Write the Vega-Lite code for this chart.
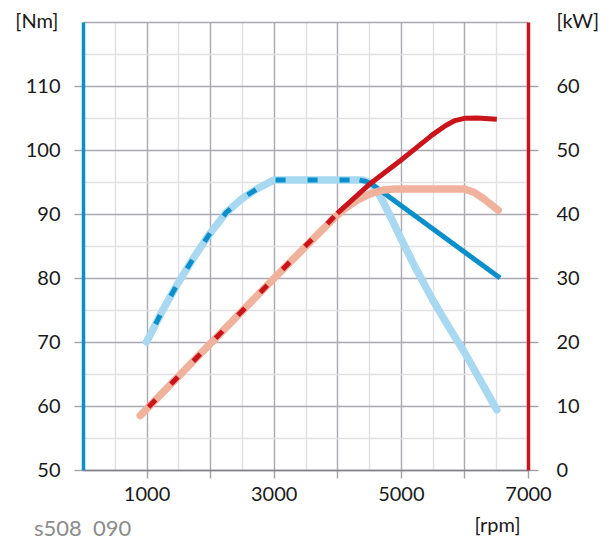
{
  "$schema": "https://vega.github.io/schema/vega-lite/v6.json",
  "width": 445,
  "height": 448,
  "autosize": {"type": "none"},
  "padding": {"left": 83, "top": 22, "right": 85, "bottom": 70},
  "background": "white",
  "config": {
    "view": {"stroke": null},
    "font": "Lato",
    "axis": {"labelFont": "Lato", "titleFont": "Lato", "labelFontSize": 20, "labelColor": "#1a1a1a", "titleFontSize": 20, "titleFontWeight": "normal", "titleColor": "#1a1a1a"}
  },
  "title": {"text": "s508\u00a0\u00a0090", "orient": "bottom", "anchor": "start", "frame": "group", "fontSize": 22, "fontWeight": "normal", "color": "#8c8c8c", "font": "Lato", "dx": -49, "dy": -16, "offset": 0},
  "datasets": {
    "torque": [
      {"rpm": 1000, "value": 70.0, "s": "light"},
      {"rpm": 1250, "value": 74.9, "s": "light"},
      {"rpm": 1500, "value": 79.3, "s": "light"},
      {"rpm": 1750, "value": 83.3, "s": "light"},
      {"rpm": 2000, "value": 87.0, "s": "light"},
      {"rpm": 2250, "value": 90.2, "s": "light"},
      {"rpm": 2500, "value": 92.4, "s": "light"},
      {"rpm": 2750, "value": 94.0, "s": "light"},
      {"rpm": 3000, "value": 95.3, "s": "light"},
      {"rpm": 4400, "value": 95.3, "s": "light"},
      {"rpm": 4500, "value": 95.0, "s": "light"},
      {"rpm": 4600, "value": 94.0, "s": "light"},
      {"rpm": 4700, "value": 92.3, "s": "light"},
      {"rpm": 4850, "value": 89.3, "s": "light"},
      {"rpm": 5000, "value": 86.2, "s": "light"},
      {"rpm": 5250, "value": 81.2, "s": "light"},
      {"rpm": 5500, "value": 76.6, "s": "light"},
      {"rpm": 5750, "value": 72.4, "s": "light"},
      {"rpm": 6000, "value": 68.4, "s": "light"},
      {"rpm": 6250, "value": 64.0, "s": "light"},
      {"rpm": 6510, "value": 59.4, "s": "light"},
      {"rpm": 1000, "value": 70.0, "s": "dashed"},
      {"rpm": 1250, "value": 74.9, "s": "dashed"},
      {"rpm": 1500, "value": 79.3, "s": "dashed"},
      {"rpm": 1750, "value": 83.3, "s": "dashed"},
      {"rpm": 2000, "value": 87.0, "s": "dashed"},
      {"rpm": 2250, "value": 90.2, "s": "dashed"},
      {"rpm": 2500, "value": 92.4, "s": "dashed"},
      {"rpm": 2750, "value": 94.0, "s": "dashed"},
      {"rpm": 3000, "value": 95.3, "s": "dashed"},
      {"rpm": 4350, "value": 95.3, "s": "dashed"},
      {"rpm": 4350, "value": 95.3, "s": "solid"},
      {"rpm": 4450, "value": 95.1, "s": "solid"},
      {"rpm": 4550, "value": 94.6, "s": "solid"},
      {"rpm": 6560, "value": 80.0, "s": "solid"}
    ],
    "power": [
      {"rpm": 900, "value": 8.5, "s": "light"},
      {"rpm": 2000, "value": 19.7, "s": "light"},
      {"rpm": 3000, "value": 29.9, "s": "light"},
      {"rpm": 3900, "value": 38.9, "s": "light"},
      {"rpm": 4100, "value": 40.7, "s": "light"},
      {"rpm": 4300, "value": 42.1, "s": "light"},
      {"rpm": 4500, "value": 43.1, "s": "light"},
      {"rpm": 4700, "value": 43.7, "s": "light"},
      {"rpm": 4900, "value": 43.9, "s": "light"},
      {"rpm": 6000, "value": 43.9, "s": "light"},
      {"rpm": 6150, "value": 43.4, "s": "light"},
      {"rpm": 6300, "value": 42.4, "s": "light"},
      {"rpm": 6530, "value": 40.6, "s": "light"},
      {"rpm": 900, "value": 8.5, "s": "dashed"},
      {"rpm": 2000, "value": 19.7, "s": "dashed"},
      {"rpm": 3000, "value": 29.9, "s": "dashed"},
      {"rpm": 4000, "value": 40.1, "s": "dashed"},
      {"rpm": 4000, "value": 40.1, "s": "solid"},
      {"rpm": 4500, "value": 44.6, "s": "solid"},
      {"rpm": 5000, "value": 48.4, "s": "solid"},
      {"rpm": 5300, "value": 50.8, "s": "solid"},
      {"rpm": 5500, "value": 52.4, "s": "solid"},
      {"rpm": 5700, "value": 53.8, "s": "solid"},
      {"rpm": 5850, "value": 54.6, "s": "solid"},
      {"rpm": 6000, "value": 54.95, "s": "solid"},
      {"rpm": 6200, "value": 55.0, "s": "solid"},
      {"rpm": 6510, "value": 54.8, "s": "solid"}
    ]
  },
  "encoding": {
    "x": {
      "field": "rpm",
      "type": "quantitative",
      "scale": {"domain": [0, 7000], "nice": false, "zero": false},
      "axis": {
        "values": [0, 500, 1000, 1500, 2000, 2500, 3000, 3500, 4000, 4500, 5000, 5500, 6000, 6500, 7000],
        "format": "d",
        "labelExpr": "datum.value % 2000 === 1000 ? datum.label : ''",
        "labelFlush": false,
        "labelOverlap": false,
        "grid": true,
        "gridColor": {"condition": {"test": "datum.value % 1000 === 0", "value": "#a9a9b1"}, "value": "#e1e1e5"},
        "gridWidth": 1.4,
        "domainColor": "#808088",
        "domainWidth": 1.4,
        "tickColor": "#a0a0a8",
        "tickWidth": 1.4,
        "tickOpacity": {"condition": {"test": "datum.value % 1000 === 0 && datum.value > 0", "value": 1}, "value": 0},
        "tickSize": 8,
        "labelPadding": 6,
        "title": "[rpm]",
        "titleX": 414,
        "titleY": 55,
        "titleAlign": "center",
        "titleBaseline": "middle"
      }
    }
  },
  "layer": [
    {
      "data": {"name": "torque"},
      "encoding": {
        "y": {
          "field": "value",
          "type": "quantitative",
          "scale": {"domain": [50, 120], "nice": false, "zero": false},
          "axis": {
            "orient": "left",
            "values": [50, 55, 60, 65, 70, 75, 80, 85, 90, 95, 100, 105, 110, 115, 120],
            "labelExpr": "datum.value % 10 === 0 && datum.value < 120 ? datum.label : ''",
            "grid": true,
            "gridColor": {"condition": {"test": "datum.value % 10 === 0", "value": "#a9a9b1"}, "value": "#e1e1e5"},
            "gridWidth": 1.4,
            "tickColor": "#a0a0a8",
            "tickWidth": 1.4,
            "tickOpacity": {"condition": {"test": "datum.value % 10 === 0 && datum.value < 120", "value": 1}, "value": 0},
            "tickSize": 9,
            "domainColor": "#0a8fca",
            "domainWidth": 3.5,
            "labelPadding": 14,
            "title": "[Nm]",
            "titleAngle": 0,
            "titleX": -25,
            "titleY": -1,
            "titleAlign": "right",
            "titleBaseline": "middle"
          }
        }
      },
      "layer": [
        {"transform": [{"filter": "datum.s === 'light'"}], "mark": {"type": "line", "color": "#a8d9f0", "strokeWidth": 7.5, "strokeCap": "round", "strokeJoin": "round"}},
        {"transform": [{"filter": "datum.s === 'dashed'"}], "mark": {"type": "line", "color": "#0a8fca", "strokeWidth": 5, "strokeDash": [10, 22], "strokeDashOffset": -20}},
        {"transform": [{"filter": "datum.s === 'solid'"}], "mark": {"type": "line", "color": "#0a8fca", "strokeWidth": 5, "strokeJoin": "round"}}
      ]
    },
    {
      "data": {"name": "power"},
      "encoding": {
        "y": {
          "field": "value",
          "type": "quantitative",
          "scale": {"domain": [0, 70], "nice": false, "zero": false},
          "axis": {
            "orient": "right",
            "values": [0, 10, 20, 30, 40, 50, 60],
            "grid": false,
            "tickColor": "#a0a0a8",
            "tickWidth": 1.4,
            "tickSize": 10,
            "domainColor": "#c9141c",
            "domainWidth": 3.5,
            "labelPadding": 18,
            "title": "[kW]",
            "titleAngle": 0,
            "titleX": 28,
            "titleY": -1,
            "titleAlign": "left",
            "titleBaseline": "middle"
          }
        }
      },
      "layer": [
        {"transform": [{"filter": "datum.s === 'light'"}], "mark": {"type": "line", "color": "#f0b29c", "strokeWidth": 7.5, "strokeCap": "round", "strokeJoin": "round"}},
        {"transform": [{"filter": "datum.s === 'dashed'"}], "mark": {"type": "line", "color": "#c9141c", "strokeWidth": 5, "strokeDash": [10, 22], "strokeDashOffset": -12}},
        {"transform": [{"filter": "datum.s === 'solid'"}], "mark": {"type": "line", "color": "#c9141c", "strokeWidth": 5, "strokeJoin": "round"}}
      ]
    }
  ],
  "resolve": {"scale": {"y": "independent"}}
}
